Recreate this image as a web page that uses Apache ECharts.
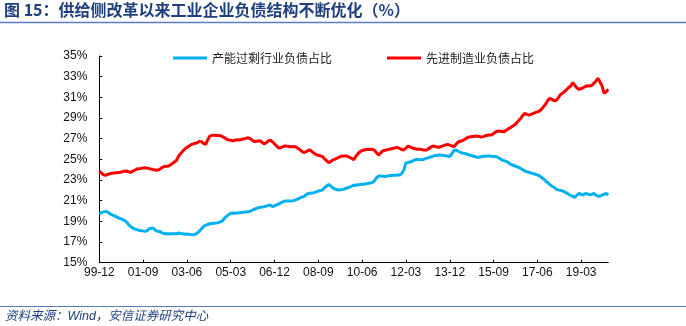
<!DOCTYPE html>
<html>
<head>
<meta charset="utf-8">
<script src="https://cdn.jsdelivr.net/npm/echarts@6/dist/echarts.min.js"></script>
<style>
  html, body { margin: 0; padding: 0; background: #fff; }
  #chart { width: 686px; height: 326px; }
</style>
</head>
<body>
<div id="chart"></div>
<script>
// Monthly observations, 1999-12 onwards (share of industrial liabilities, %)
const startYear = 1999, startMonth = 12;

const overcapacityShare = [
  19.74, 19.85, 19.92, 19.97, 19.9, 19.75, 19.62, 19.55, 19.45, 19.35, 19.28, 19.2,
  19.1, 18.95, 18.7, 18.5, 18.35, 18.28, 18.2, 18.13, 18.1, 18.08, 18.03, 18.1,
  18.29, 18.33, 18.35, 18.1, 18.05, 18.03, 17.9, 17.8, 17.82, 17.78, 17.8, 17.81,
  17.79, 17.8, 17.87, 17.83, 17.8, 17.76, 17.78, 17.74, 17.72, 17.7, 17.75, 17.87,
  18.05, 18.29, 18.5, 18.62, 18.7, 18.77, 18.8, 18.82, 18.84, 18.88, 18.95, 19.05,
  19.3, 19.5, 19.65, 19.78, 19.8, 19.79, 19.82, 19.84, 19.86, 19.88, 19.9, 19.93,
  19.96, 20.05, 20.15, 20.22, 20.3, 20.36, 20.38, 20.42, 20.48, 20.55, 20.58, 20.42,
  20.5, 20.6, 20.68, 20.78, 20.88, 20.97, 20.98, 20.97, 20.97, 21.0, 21.07, 21.15,
  21.25, 21.35, 21.39, 21.55, 21.7, 21.72, 21.75, 21.78, 21.85, 21.92, 21.98, 22.05,
  22.26, 22.42, 22.58, 22.4, 22.22, 22.15, 22.05, 22.03, 22.07, 22.1, 22.18, 22.25,
  22.32, 22.4, 22.5, 22.5, 22.55, 22.56, 22.58, 22.6, 22.63, 22.68, 22.72, 22.77,
  22.95, 23.25, 23.39, 23.38, 23.36, 23.35, 23.38, 23.42, 23.44, 23.45, 23.46, 23.48,
  23.48, 23.65, 23.97, 24.68, 24.7, 24.75, 24.82, 24.92, 25.0, 24.98, 24.95, 24.96,
  25.05, 25.12, 25.16, 25.25, 25.32, 25.36, 25.4, 25.42, 25.4, 25.37, 25.35, 25.32,
  25.26, 25.55, 25.85, 25.9, 25.8, 25.68, 25.62, 25.58, 25.52, 25.45, 25.4, 25.33,
  25.28, 25.2, 25.19, 25.25, 25.3, 25.31, 25.32, 25.33, 25.3, 25.28, 25.28, 25.2,
  25.08, 24.94, 24.88, 24.8, 24.7, 24.55, 24.45, 24.38, 24.3, 24.23, 24.12, 24.0,
  23.87, 23.8, 23.75, 23.68, 23.62, 23.56, 23.5, 23.4, 23.25, 23.1, 22.9, 22.74,
  22.55, 22.4, 22.3, 22.12, 22.05, 22.0, 21.95, 21.85, 21.75, 21.62, 21.5, 21.42,
  21.32, 21.55, 21.71, 21.6, 21.55, 21.7, 21.66, 21.58, 21.6, 21.71, 21.55, 21.42,
  21.45, 21.55, 21.62, 21.71, 21.55
];

const advancedMfgShare = [
  23.87, 23.7, 23.5, 23.45, 23.55, 23.6, 23.65, 23.68, 23.7, 23.72, 23.75, 23.8,
  23.85, 23.87, 23.8, 23.74, 23.85, 23.95, 24.06, 24.1, 24.12, 24.16, 24.18, 24.15,
  24.1, 24.05, 24.0, 23.97, 23.94, 24.05, 24.2, 24.3, 24.32, 24.35, 24.45, 24.6,
  24.74, 24.9, 25.3, 25.55, 25.8, 26.0, 26.15, 26.3, 26.42, 26.5, 26.55, 26.6,
  26.75, 26.7, 26.55, 26.45, 26.9, 27.25, 27.32, 27.33, 27.3, 27.32, 27.3, 27.2,
  27.1, 26.95, 26.87, 26.85, 26.8, 26.85, 26.9, 26.87, 26.92, 26.97, 27.02, 27.08,
  27.05, 26.9, 26.75, 26.72, 26.78, 26.8, 26.65, 26.5, 26.6, 26.78, 26.87, 26.7,
  26.5, 26.3, 26.1, 26.12, 26.22, 26.3, 26.28, 26.25, 26.23, 26.24, 26.23, 26.1,
  25.95, 25.8, 25.65, 25.72, 25.85, 25.9, 25.75, 25.58, 25.45, 25.4, 25.33, 25.26,
  25.05, 24.85, 24.68, 24.8, 24.95, 25.03, 25.12, 25.22, 25.3, 25.33, 25.32, 25.3,
  25.2, 25.1, 24.95, 25.3, 25.55, 25.75, 25.85, 25.9, 25.95, 25.97, 25.96, 25.97,
  25.85, 25.6, 25.42, 25.65, 25.84, 25.88, 25.92, 25.97, 26.02, 26.08, 26.12, 26.16,
  26.05, 25.95, 25.9, 26.1, 26.29, 26.2, 26.1, 26.05, 26.0, 25.97, 25.97, 25.93,
  25.9, 25.9, 26.05, 26.2, 26.29, 26.25, 26.2, 26.16, 26.25, 26.32, 26.4, 26.45,
  26.38, 26.3, 26.23, 26.45, 26.68, 26.75, 26.8, 26.9, 27.05, 27.15, 27.19, 27.22,
  27.24, 27.26, 27.22, 27.15, 27.2, 27.28, 27.33, 27.35, 27.36, 27.5, 27.65, 27.74,
  27.72, 27.7, 27.68, 27.8, 27.95, 28.05, 28.2, 28.32, 28.5, 28.75, 28.95, 29.25,
  29.45, 29.35, 29.29, 29.35, 29.45, 29.52, 29.6, 29.68, 29.85, 30.1, 30.35, 30.7,
  30.9, 30.8, 30.68, 30.7, 30.95, 31.25, 31.4, 31.55, 31.75, 31.95, 32.1, 32.42,
  32.15, 31.9, 31.77, 31.85, 31.93, 32.05, 32.13, 32.1, 32.15, 32.35, 32.55, 32.84,
  32.5, 32.1, 31.39, 31.55, 31.77
];

const seriesNames = ['产能过剩行业负债占比', '先进制造业负债占比'];
const seriesColors = ['#00B0F0', '#FF0000'];

// Month labels in "YY-MM" form
const months = [];
for (let i = 0; i < overcapacityShare.length; i++) {
  const m = startMonth - 1 + i;
  const y = startYear + Math.floor(m / 12);
  const mm = (m % 12) + 1;
  months.push(String(y % 100).padStart(2, '0') + '-' + String(mm).padStart(2, '0'));
}

const titleText = '图 15：供给侧改革以来工业企业负债结构不断优化（%）';
const sourceText = '资料来源：Wind，安信证券研究中心';

const chart = echarts.init(document.getElementById('chart'), null, { renderer: 'canvas' });
const cjk = '"Liberation Sans", Arial, "Noto Sans CJK SC", sans-serif';
const navy = '#1F3F7F';

chart.setOption({
  animation: false,
  backgroundColor: '#fff',
  textStyle: { fontFamily: cjk },
  graphic: [
    {
      type: 'text', left: 4, top: 2,
      style: { text: titleText, fill: navy, font: 'bold 16px "Noto Sans CJK SC", sans-serif' }
    },
    {
      type: 'line', shape: { x1: 0, y1: 22.5, x2: 686, y2: 22.5 },
      style: { stroke: '#5B7DBE', lineWidth: 1.5 }
    },
    {
      type: 'line', shape: { x1: 0, y1: 306.5, x2: 686, y2: 306.5 },
      style: { stroke: '#5B7DBE', lineWidth: 1.2 }
    },
    {
      type: 'text', left: 5, top: 310,
      style: { text: sourceText, fill: navy, font: 'italic 12.5px "Liberation Sans", "Noto Sans CJK SC", sans-serif' }
    }
  ],
  legend: {
    left: 173, top: 52, padding: 0,
    itemWidth: 34, itemHeight: 3, itemGap: 55,
    icon: 'rect',
    textStyle: { fontSize: 12, color: '#222', fontFamily: '"Noto Sans CJK SC", sans-serif' },
    data: seriesNames
  },
  grid: { left: 99.3, right: 77.7, top: 56, bottom: 63.3, containLabel: false },
  xAxis: {
    type: 'category',
    data: months,
    boundaryGap: false,
    axisLine: { lineStyle: { color: '#000', width: 1 } },
    axisTick: { inside: true, length: 3, interval: 20, lineStyle: { color: '#000' } },
    axisLabel: { interval: 20, margin: 4, color: '#111', fontSize: 12 },
    splitLine: { show: false }
  },
  yAxis: {
    type: 'value',
    min: 15, max: 35, interval: 2,
    axisLine: { show: true, lineStyle: { color: '#000', width: 1 } },
    axisTick: { show: true, inside: true, length: 3, lineStyle: { color: '#000' } },
    axisLabel: { formatter: '{value}%', margin: 12, color: '#111', fontSize: 12 },
    splitLine: { show: false }
  },
  series: [
    {
      name: seriesNames[0], type: 'line', data: overcapacityShare,
      showSymbol: false, symbol: 'none',
      lineStyle: { color: seriesColors[0], width: 3 },
      itemStyle: { color: seriesColors[0] }
    },
    {
      name: seriesNames[1], type: 'line', data: advancedMfgShare,
      showSymbol: false, symbol: 'none',
      lineStyle: { color: seriesColors[1], width: 3 },
      itemStyle: { color: seriesColors[1] }
    }
  ]
});
</script>
</body>
</html>
